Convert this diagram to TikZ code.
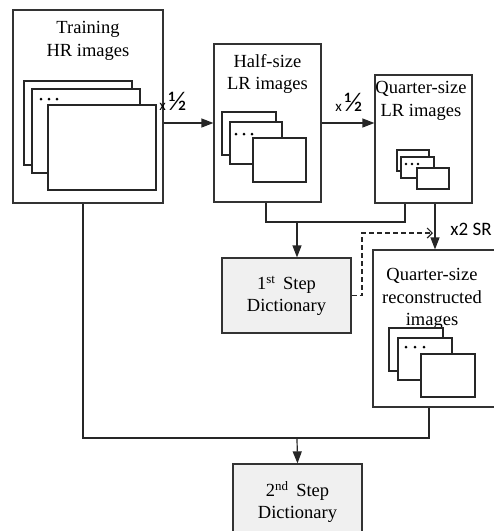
\documentclass[tikz,border=0pt]{standalone}
\usepackage{fontspec}
\setmainfont{Liberation Serif}
\newfontfamily\calib{Carlito}
\usetikzlibrary{arrows.meta,calc}

\tikzset{
  box/.style={draw=black!80, line width=1.2pt, fill=white, inner sep=0pt},
  dictbox/.style={box, fill=black!6, align=center, font=\fontsize{18.5}{22}\selectfont},
  lbl/.style={align=center, inner sep=0pt, font=\fontsize{18.5}{22.5}\selectfont},
  img/.style={draw=black!85, line width=1.2pt, fill=white},
  conn/.style={draw=black!85, line width=1.2pt},
  arr/.style={conn, -{Triangle[length=12pt,width=9pt]}},
  dasharr/.style={conn, dash pattern=on 5pt off 3pt, -{Straight Barb[length=5pt,width=10pt]}},
  scalelbl/.style={inner sep=0pt, font=\calib},
}

\begin{document}
\begin{tikzpicture}[x=1pt,y=-1pt]
  \useasboundingbox (0,0) rectangle (494,531);
  \clip (0,0) rectangle (494,531);

  % boxes
  \node[box, minimum width=150pt, minimum height=193pt] (train) at (88,106.5) {};
  \node[box, minimum width=107pt, minimum height=158pt] (half) at (267.5,123) {};
  \node[box, minimum width=97pt, minimum height=128pt] (quarter) at (423.5,139) {};
  \node[box, minimum width=124pt, minimum height=157pt] (recon) at (435,328.5) {};
  \node[dictbox, minimum width=129pt, minimum height=75pt] (dict1) at (286.5,295.5) {1\textsuperscript{st}\, Step\\Dictionary};
  \node[dictbox, minimum width=129pt, minimum height=76pt] (dict2) at (297.5,502) {2\textsuperscript{nd}\, Step\\Dictionary};

  % box titles
  \node[lbl] (traintxt) at (88,41) {Training\\HR images};
  \node[lbl] (halftxt) at (267.5,74) {Half-size\\LR images};
  \node[lbl] (quartertxt) at (421,101) {Quarter-size\\LR images};
  \node[lbl] (recontxt) at (432,299) {Quarter-size\\reconstructed\\images};

  % image stacks
  \draw[img] (24,81) rectangle (132,165);
  \draw[img] (32,89) rectangle (140,173);
  \foreach \x in {41,49,57} \fill (\x,99) circle (1.5pt);
  \draw[img] (48,105) rectangle (156,190);

  \draw[img] (222,112) rectangle (276,155);
  \draw[img] (230,122) rectangle (282,164);
  \foreach \x in {236,244,252} \fill (\x,134) circle (1.5pt);
  \draw[img] (253,138) rectangle (306,182);

  \draw[img] (397,150) rectangle (429,171);
  \draw[img] (401,157) rectangle (434,178);
  \foreach \x in {406,412,418} \fill (\x,164) circle (1.3pt);
  \draw[img] (417,168) rectangle (449,189);

  \draw[img] (389,328) rectangle (443,371);
  \draw[img] (398,338) rectangle (452,380);
  \foreach \x in {406,415,424} \fill (\x,347) circle (1.5pt);
  \draw[img] (421,354) rectangle (475,397);

  % connectors
  \draw[arr] (train.east |- half.west) -- (half.west);
  \node[scalelbl] (down1) at (173,101) {\fontsize{15}{15}\selectfont x\,\fontsize{27}{27}\selectfont ½};
  \draw[arr] (half.east) -- (half.east -| quarter.west);
  \node[scalelbl] (down2) at (349,102) {\fontsize{15}{15}\selectfont x\,\fontsize{27}{27}\selectfont ½};

  \coordinate (join1) at (297,222);
  \draw[conn] ([xshift=-1.5pt]half.south) |- (join1) -| ([xshift=-18.5pt]quarter.south);
  \draw[arr] (join1) -- (join1 |- dict1.north);

  \draw[arr] (quarter.south -| recon.north) -- (recon.north);
  \node[scalelbl, font=\calib\fontsize{19}{19}\selectfont] (srlbl) at (471,229) {x2 SR};

  \coordinate (dbend) at (362,233);
  \draw[dasharr] (dict1.east) -| (dbend) -- ([xshift=-2pt]dbend -| recon.north);

  \coordinate (join2) at (297,438);
  \draw[conn] ([xshift=-5pt]train.south) |- (join2) -| ([xshift=-6pt]recon.south);
  \draw[arr] (join2) -- (dict2.north);
\end{tikzpicture}
\end{document}
